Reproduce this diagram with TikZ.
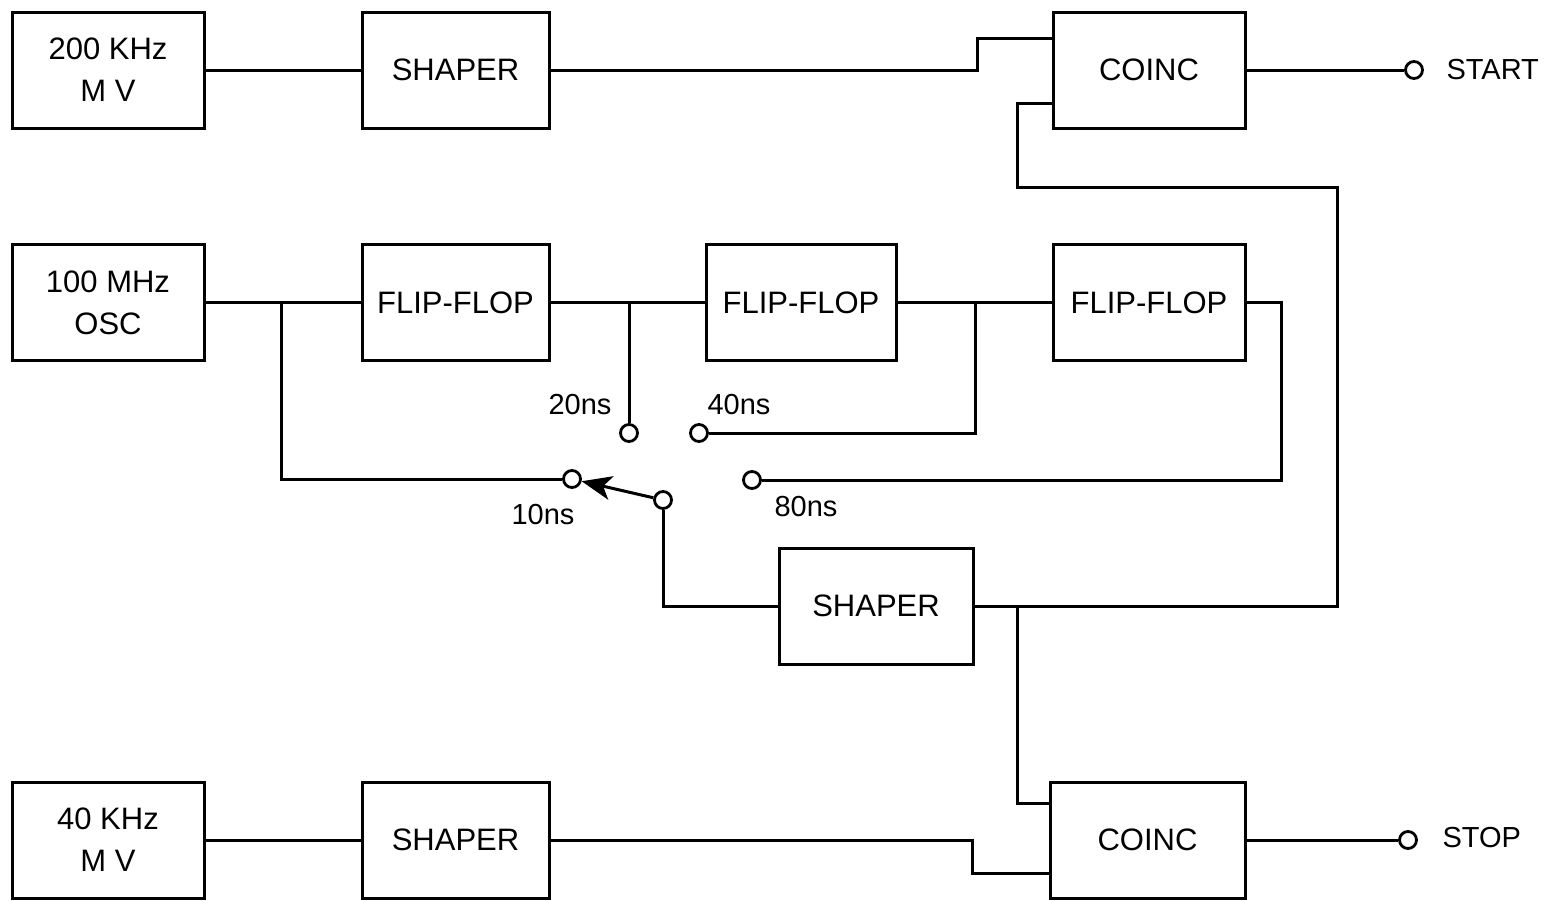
\documentclass[tikz,border=0pt]{standalone}
\usepackage{fontspec}
\setmainfont{Liberation Sans}
\usetikzlibrary{arrows.meta}
\begin{document}
\begin{tikzpicture}[x=1pt,y=-1pt,line width=3pt,
  blk/.style={draw,rectangle,minimum width=192pt,minimum height=116pt,inner sep=0pt,align=center,font=\fontsize{31}{42}\selectfont,line width=3pt},
  term/.style={draw,circle,fill=white,minimum size=17pt,inner sep=0pt,line width=2.8pt},
  lbl/.style={font=\fontsize{29}{34}\selectfont,inner sep=0pt},
  wire/.style={line width=3pt}]
\useasboundingbox (0,0) rectangle (1552,900);
% blocks
\node[blk] (mv1) at (108,70) {200 KHz\\M V};
\node[blk,minimum width=187pt] (sh1) at (455.5,70) {SHAPER};
\node[blk] (co1) at (1149,70) {COINC};
\node[blk] (osc) at (108,302.5) {100 MHz\\OSC};
\node[blk,minimum width=187pt] (ff1) at (455.5,302.5) {FLIP-FLOP};
\node[blk,minimum width=190pt] (ff2) at (801,302.5) {FLIP-FLOP};
\node[blk] (ff3) at (1149,302.5) {FLIP-FLOP};
\node[blk,minimum width=194pt] (sh2) at (876,606) {SHAPER};
\node[blk] (mv2) at (108,840) {40 KHz\\M V};
\node[blk,minimum width=187pt] (sh3) at (455.5,840) {SHAPER};
\node[blk,minimum width=195pt] (co2) at (1147.5,840) {COINC};
% terminals
\node[term] (tstart) at (1414,70) {};
\node[term] (tstop) at (1408,840) {};
\node[term] (c20) at (629,433) {};
\node[term] (c40) at (699,433) {};
\node[term] (c10) at (572,479) {};
\node[term] (c80) at (752,480) {};
\node[term] (piv) at (663,500) {};
% labels
\node[lbl,anchor=west] (lstart) at (1445,70) {START};
\node[lbl,anchor=west] (lstop) at (1441,838) {STOP};
\node[lbl] (l20) at (580,405) {20ns};
\node[lbl] (l40) at (739,405) {40ns};
\node[lbl] (l10) at (543,515) {10ns};
\node[lbl] (l80) at (806,507) {80ns};
% top row
\draw[wire] (mv1.east) -- (sh1.west);
\draw[wire] (sh1.east) -- (977,70) |- (co1.west |- 0,38);
\draw[wire] (co1.east) -- (tstart.west);
\draw[wire] (co1.west |- 0,103) -| (1017,187) -| (1337,606) -- (sh2.east);
% middle row
\draw[wire] (osc.east) -- (ff1.west);
\draw[wire] (ff1.east) -- (ff2.west);
\draw[wire] (ff2.east) -- (ff3.west);
\draw[wire] (281,302.5) |- (c10.west);
\draw[wire] (629,302.5) -- (c20.north);
\draw[wire] (975,302.5) |- (c40.east);
\draw[wire] (ff3.east) -- (1281,302.5) |- (c80.east);
\draw[wire] (piv.south) |- (sh2.west);
\draw[wire,-{Stealth[length=30pt,width=24pt,inset=8pt]}] (piv) -- (c10);
% bottom row
\draw[wire] (1017,606) |- (co2.west |- 0,803);
\draw[wire] (mv2.east) -- (sh3.west);
\draw[wire] (sh3.east) -- (972,840) |- (co2.west |- 0,873);
\draw[wire] (co2.east) -- (tstop.west);
\end{tikzpicture}
\end{document}
